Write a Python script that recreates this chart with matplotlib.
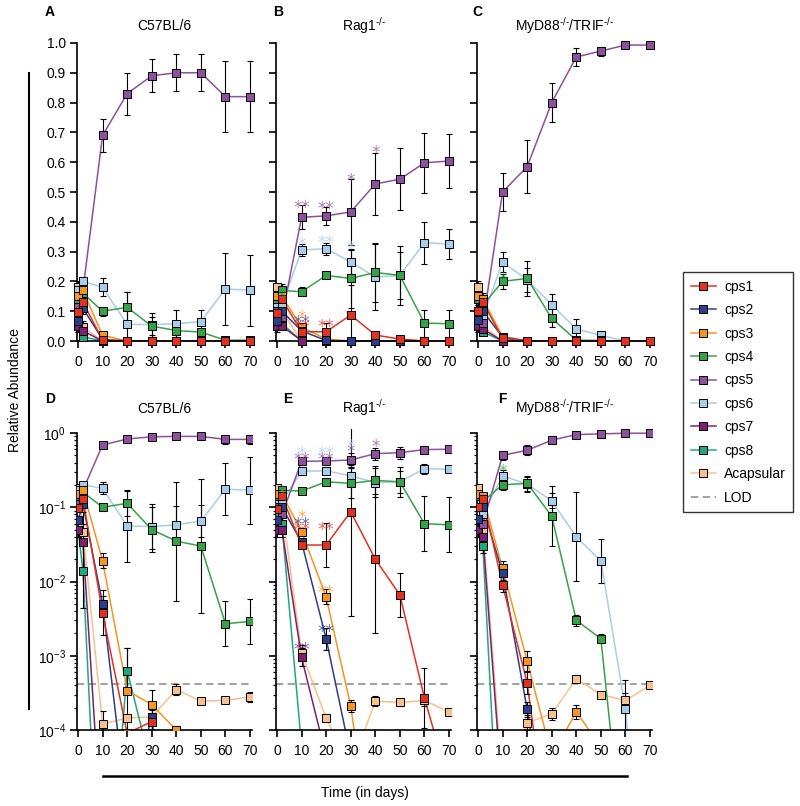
import matplotlib
matplotlib.use("Agg")
import matplotlib.pyplot as plt
from matplotlib.lines import Line2D
from matplotlib.ticker import LogLocator, NullFormatter, FixedLocator, FixedFormatter
import numpy as np

plt.rcParams['font.family'] = ['Liberation Sans', 'DejaVu Sans']
plt.rcParams['mathtext.default'] = 'regular'
plt.rcParams['axes.linewidth'] = 1.2

days = [0, 2, 10, 20, 30, 40, 50, 60, 70]
series = ['cps1', 'cps2', 'cps3', 'cps4', 'cps5', 'cps6', 'cps7', 'cps8', 'Acapsular']
colors = ['#E3301F', '#2E3C8C', '#F7941D', '#34A347', '#8F4F9F',
          '#A8CDEB', '#7E1F73', '#1EA97C', '#F6C18D']
strains = ['C57BL/6', 'Rag1$^{\u2010/\u2010}$', 'MyD88$^{\u2010/\u2010}$/TRIF$^{\u2010/\u2010}$']
lod = 4.2e-4

# C57BL/6 (panels A, D); rows follow `series`
b6_mean = [
    [0.098, 0.13, 0.0038, 9e-5, 1.3e-4, 1e-7, 1e-7, 1e-7, 1e-7],
    [0.067, 0.11, 0.005, 8e-6, 1.5e-4, 1e-7, 1e-7, 1e-7, 1e-7],
    [0.15, 0.17, 0.019, 3.4e-4, 2.2e-4, 1.0e-4, 1e-7, 1e-7, 1e-7],
    [0.14, 0.16, 0.10, 0.113, 0.05, 0.035, 0.03, 0.0027, 0.0029],
    [0.12, 0.17, 0.69, 0.83, 0.89, 0.90, 0.90, 0.82, 0.82],
    [0.17, 0.20, 0.18, 0.056, 0.055, 0.058, 0.065, 0.175, 0.17],
    [0.05, 0.034, 2.5e-6, 1e-8, 1e-8, 1e-8, 1e-8, 1e-8, 1e-8],
    [0.05, 0.014, 6e-8, 6.3e-4, 3e-5, 1e-8, 1e-8, 1e-8, 1e-8],
    [0.18, 0.047, 1.2e-4, 1.45e-4, 1.5e-4, 3.5e-4, 2.45e-4, 2.5e-4, 2.8e-4],
]
b6_sd = [
    [0.02, 0.02, 0.003, 0, 0, 0, 0, 0, 0],
    [0.02, 0.02, 0.003, 0, 0, 0, 0, 0, 0],
    [0.02, 0.02, 0.005, 0, 0, 0, 0, 0, 0],
    [0.02, 0.02, 0.015, 0.05, 0.03, 0.03, 0.03, 0.003, 0.003],
    [0.01, 0.02, 0.055, 0.07, 0.055, 0.062, 0.062, 0.12, 0.12],
    [0.02, 0.015, 0.03, 0.11, 0.04, 0.045, 0.04, 0.12, 0.12],
    [0.02, 0.01, 0, 0, 0, 0, 0, 0, 0],
    [0.02, 0.01, 0, 0, 0, 0, 0, 0, 0],
    [0.02, 0.02, 0, 0, 0, 0, 0, 0, 0],
]
# error bars of the log panels, in decades
b6_logerr = [
    [0.05, 0.05, 0.3, 0, 0.1, 0, 0, 0, 0],
    [0.05, 0.05, 0.1, 0, 0.1, 0, 0, 0, 0],
    [0.05, 0.05, 0.1, 0.57, 0.2, 0.05, 0, 0, 0],
    [0.05, 0.05, 0.05, 0.17, 0.3, 0.8, 0.9, 0.3, 0.3],
    [0.03, 0.03, 0.02, 0.02, 0.02, 0.02, 0.02, 0.06, 0.06],
    [0.05, 0.03, 0.08, 0.48, 0.3, 0.25, 0.22, 0.35, 0.45],
    [0.1, 0.4, 0, 0, 0, 0, 0, 0, 0],
    [0.1, 0.5, 0, 0.3, 0, 0, 0, 0, 0],
    [0.05, 0.1, 0.18, 0.05, 0.05, 0.07, 0.03, 0.03, 0.07],
]

# Rag1-/- (panels B, E)
rag_mean = [
    [0.094, 0.14, 0.031, 0.031, 0.087, 0.02, 0.0066, 2.7e-4, 1.9e-5],
    [0.067, 0.10, 0.034, 0.0017, 4.5e-5, 1e-7, 1e-7, 1e-7, 1e-7],
    [0.15, 0.15, 0.047, 0.0062, 2.1e-4, 1e-6, 1e-7, 1e-7, 1e-7],
    [0.14, 0.17, 0.165, 0.22, 0.21, 0.23, 0.22, 0.06, 0.058],
    [0.10, 0.08, 0.415, 0.42, 0.433, 0.527, 0.543, 0.598, 0.604],
    [0.12, 0.12, 0.305, 0.31, 0.265, 0.215, 0.22, 0.33, 0.325],
    [0.05, 0.05, 9.5e-4, 4.4e-5, 1e-8, 1e-8, 1e-8, 1e-8, 1e-8],
    [0.08, 0.059, 6e-5, 1e-8, 1e-8, 1e-8, 1e-8, 1e-8, 1e-8],
    [0.18, 0.10, 1.1e-3, 1.45e-4, 3e-5, 2.45e-4, 2.35e-4, 2.5e-4, 1.75e-4],
]
rag_sd = [
    [0.02, 0.02, 0.01, 0.03, 0.1, 0.015, 0.005, 0, 0],
    [0.02, 0.02, 0.01, 0, 0, 0, 0, 0, 0],
    [0.02, 0.02, 0.01, 0, 0, 0, 0, 0, 0],
    [0.02, 0.02, 0.015, 0.005, 0.1, 0.1, 0.1, 0.045, 0.045],
    [0.01, 0.02, 0.04, 0.03, 0.11, 0.105, 0.105, 0.10, 0.09],
    [0.02, 0.02, 0.02, 0.02, 0.04, 0.11, 0.08, 0.07, 0.05],
    [0.02, 0.01, 0, 0, 0, 0, 0, 0, 0],
    [0.02, 0.01, 0, 0, 0, 0, 0, 0, 0],
    [0.01, 0.01, 0, 0, 0, 0, 0, 0, 0],
]
rag_logerr = [
    [0.05, 0.05, 0.05, 0.3, 1.4, 1.0, 0.3, 0.4, 0],
    [0.05, 0.05, 0.05, 0.15, 0, 0, 0, 0, 0],
    [0.05, 0.05, 0.05, 0.1, 0.08, 0, 0, 0, 0],
    [0.05, 0.05, 0.04, 0.02, 0.2, 0.19, 0.2, 0.37, 0.37],
    [0.03, 0.03, 0.05, 0.03, 0.1, 0.08, 0.08, 0.05, 0.05],
    [0.05, 0.05, 0.05, 0.03, 0.15, 0.2, 0.15, 0.07, 0.05],
    [0.1, 0.1, 0.12, 0, 0, 0, 0, 0, 0],
    [0.1, 0.1, 0, 0, 0, 0, 0, 0, 0],
    [0.05, 0.1, 0.1, 0.05, 0, 0.07, 0.05, 0.08, 0.05],
]

# MyD88-/-/TRIF-/- (panels C, F)
myd_mean = [
    [0.10, 0.13, 0.009, 4.3e-4, 1.6e-6, 1e-7, 1e-7, 1e-7, 1e-7],
    [0.07, 0.10, 0.013, 1.9e-4, 1.5e-6, 1e-7, 1e-7, 1e-7, 1e-7],
    [0.15, 0.14, 0.015, 8.5e-4, 4.5e-5, 1.75e-4, 6e-5, 1e-7, 1e-7],
    [0.14, 0.12, 0.20, 0.21, 0.076, 0.003, 0.0017, 1.2e-6, 1e-7],
    [0.10, 0.06, 0.50, 0.585, 0.80, 0.953, 0.973, 0.993, 0.993],
    [0.15, 0.08, 0.265, 0.205, 0.122, 0.04, 0.019, 1.9e-4, 1e-7],
    [0.05, 0.04, 1.2e-5, 1e-8, 1e-8, 1e-8, 1e-8, 1e-8, 1e-8],
    [0.05, 0.03, 2.5e-7, 1e-8, 1e-8, 1e-8, 1e-8, 1e-8, 1e-8],
    [0.18, 0.05, 2e-5, 1.25e-4, 1.65e-4, 4.9e-4, 3.0e-4, 2.5e-4, 4.0e-4],
]
myd_sd = [
    [0.02, 0.02, 0.005, 0, 0, 0, 0, 0, 0],
    [0.02, 0.02, 0.005, 0, 0, 0, 0, 0, 0],
    [0.02, 0.02, 0.005, 0, 0, 0, 0, 0, 0],
    [0.02, 0.02, 0.025, 0.06, 0.03, 0.002, 0.001, 0, 0],
    [0.01, 0.02, 0.065, 0.09, 0.065, 0.03, 0.015, 0.003, 0.003],
    [0.02, 0.02, 0.035, 0.04, 0.035, 0.035, 0.01, 0, 0],
    [0.02, 0.01, 0, 0, 0, 0, 0, 0, 0],
    [0.02, 0.01, 0, 0, 0, 0, 0, 0, 0],
    [0.02, 0.01, 0, 0, 0, 0, 0, 0, 0],
]
myd_logerr = [
    [0.05, 0.05, 0.1, 0.15, 0, 0, 0, 0, 0],
    [0.05, 0.05, 0.1, 0.1, 0, 0, 0, 0, 0],
    [0.05, 0.05, 0.1, 0.13, 0, 0.1, 0, 0, 0],
    [0.05, 0.05, 0.07, 0.1, 0.4, 0.07, 0.06, 0, 0],
    [0.03, 0.03, 0.06, 0.07, 0.03, 0.02, 0.02, 0.01, 0.01],
    [0.05, 0.05, 0.08, 0.1, 0.1, 0.6, 0.3, 0.4, 0],
    [0.1, 0.1, 0, 0, 0, 0, 0, 0, 0],
    [0.1, 0.1, 0, 0, 0, 0, 0, 0, 0],
    [0.05, 0.1, 0, 0.1, 0.08, 0.05, 0.03, 0.1, 0.05],
]

# significance marks: (day, y, text, series index)
stars_b = [(10, 0.466, '**', 4), (20, 0.46, '**', 4), (30, 0.557, '*', 4), (40, 0.648, '*', 4),
           (10, 0.34, '*', 5), (20, 0.346, '**', 5), (30, 0.326, '*', 5),
           (10, 0.097, '*', 2), (10, 0.08, '**', 1), (10, 0.064, '**', 0), (20, 0.064, '**', 0),
           (2, 0.164, '*', 3)]
stars_c = [(10, 0.225, '*', 3)]
stars_e = [(10, 0.61, '*', 5), (10, 0.52, '**', 4), (20, 0.61, '**', 5), (20, 0.52, '**', 4),
           (30, 0.76, '*', 5), (30, 0.65, '*', 4), (40, 0.76, '*', 4),
           (10, 0.084, '*', 2), (10, 0.069, '**', 1), (10, 0.058, '**', 0), (20, 0.058, '**', 0),
           (20, 0.0082, '**', 2), (20, 0.0025, '**', 1), (10, 0.0014, '**', 6), (2, 0.18, '*', 3)]
stars_f = [(10, 0.36, '*', 3)]

W, H = 800, 806
fig = plt.figure(figsize=(W / 100, H / 100), dpi=100)
px_day = 172 / 70


def make_axes(x0, top, bottom):
    left = x0 - 0.4 * px_day
    return fig.add_axes([left / W, 1 - bottom / H, 71.4 * px_day / W, (bottom - top) / H])


def draw(ax, mean, err, log):
    x = np.array(days)
    for i in range(len(series) - 1, -1, -1):
        y = np.array(mean[i], dtype=float)
        e = np.array(err[i], dtype=float)
        if log:
            lo, hi = y - y / 10 ** e, y * 10 ** e - y
        else:
            lo, hi = np.minimum(e, y), e
        ax.plot(x, y, color=colors[i], lw=1.1, zorder=2, clip_on=log)
        eb = ax.errorbar(x, y, yerr=[lo, hi], fmt='none', ecolor='k', elinewidth=0.8,
                         capsize=2, capthick=0.8, zorder=3)
        for a in list(eb[1]) + list(eb[2]):
            a.set_clip_on(log)
        ax.plot(x, y, ls='none', marker='s', ms=5.2, mfc=colors[i], mec='k', mew=0.7,
                zorder=4, clip_on=log)


def style(ax, log, ylabels):
    ax.spines[['top', 'right']].set_visible(False)
    ax.set_xlim(-0.4, 71)
    ax.set_xticks(range(0, 71, 10))
    ax.tick_params(axis='both', direction='out', length=5, width=1.2, labelsize=10)
    ax.tick_params(axis='x', pad=5)
    ax.tick_params(axis='y', pad=3)
    if log:
        ax.set_yscale('log')
        ax.set_ylim(1e-4, 1.12)
        ax.spines['left'].set_bounds(1e-4, 1)
        ax.yaxis.set_major_locator(FixedLocator([1e-4, 1e-3, 1e-2, 1e-1, 1]))
        ax.yaxis.set_major_formatter(FixedFormatter(['$10^{-4}$', '$10^{-3}$', '$10^{-2}$',
                                                     '$10^{-1}$', '$10^{0}$']))
        ax.yaxis.set_minor_locator(LogLocator(base=10, subs=np.arange(2, 10), numticks=20))
        ax.yaxis.set_minor_formatter(NullFormatter())
        ax.tick_params(axis='y', which='minor', length=2.5, width=0.9)
        ax.axhline(lod, color='#999999', ls=(0, (4, 2.5)), lw=1.3, zorder=1)
    else:
        ax.set_ylim(0, 1.0)
        ax.set_yticks(np.round(np.arange(0, 1.01, 0.1), 1))
        ax.yaxis.set_major_formatter(plt.FormatStrFormatter('%.1f'))
    if not ylabels:
        ax.tick_params(axis='y', which='both', labelleft=False)


def put_stars(ax, stars):
    for d, yv, txt, k in stars:
        ax.annotate(txt, (d, yv), xytext=(0, -4), textcoords='offset points',
                    ha='center', va='center', fontsize=12, color=colors[k],
                    family='DejaVu Sans', alpha=0.75, annotation_clip=False, zorder=5)


x0s = [78, 277, 478]
means = [b6_mean, rag_mean, myd_mean]
sds = [b6_sd, rag_sd, myd_sd]
logerrs = [b6_logerr, rag_logerr, myd_logerr]
top_stars = [[], stars_b, stars_c]
bot_stars = [[], stars_e, stars_f]

for j in range(3):
    ax = make_axes(x0s[j], 43, 341)
    draw(ax, means[j], sds[j], False)
    style(ax, False, j == 0)
    ax.set_title(strains[j], fontsize=10, pad=9)
    put_stars(ax, top_stars[j])

    ax = make_axes(x0s[j], 730 - 74.25 * np.log10(1.12 / 1e-4), 730)
    draw(ax, means[j], logerrs[j], True)
    style(ax, True, j == 0)
    ax.set_title(strains[j], fontsize=10, pad=12)
    put_stars(ax, bot_stars[j])

for letter, (px, py) in zip('ABCDEF', [(50, 12), (278, 12), (477, 12),
                                       (50, 399), (288, 399), (502, 399)]):
    fig.text(px / W, 1 - py / H, letter, fontsize=10, fontweight='bold',
             ha='center', va='center')

fig.add_artist(Line2D([29 / W, 29 / W], [1 - 73 / H, 1 - 709 / H], color='k', lw=1.5))
fig.add_artist(Line2D([103 / W, 627 / W], [1 - 776 / H, 1 - 776 / H], color='k', lw=1.8))
fig.text(15 / W, 1 - 390 / H, 'Relative Abundance', rotation=90, fontsize=10,
         ha='center', va='center')
fig.text(365 / W, 1 - 793 / H, 'Time (in days)', fontsize=10, ha='center', va='center')

handles = [Line2D([], [], color=c, lw=1.1, marker='s', ms=5.2, mfc=c, mec='k', mew=0.7)
           for c in colors]
handles.append(Line2D([], [], color='#999999', ls=(0, (4, 2.5)), lw=1.3))
leg = fig.legend(handles, series + ['LOD'], loc='upper left',
                 bbox_to_anchor=(683 / W, 1 - 272 / H), borderaxespad=0, fontsize=10,
                 frameon=True, fancybox=False, edgecolor='k', labelspacing=0.68,
                 handlelength=1.8, handletextpad=0.6, borderpad=0.55)
leg.get_frame().set_linewidth(1.0)

fig.savefig('out.png', dpi=100)
